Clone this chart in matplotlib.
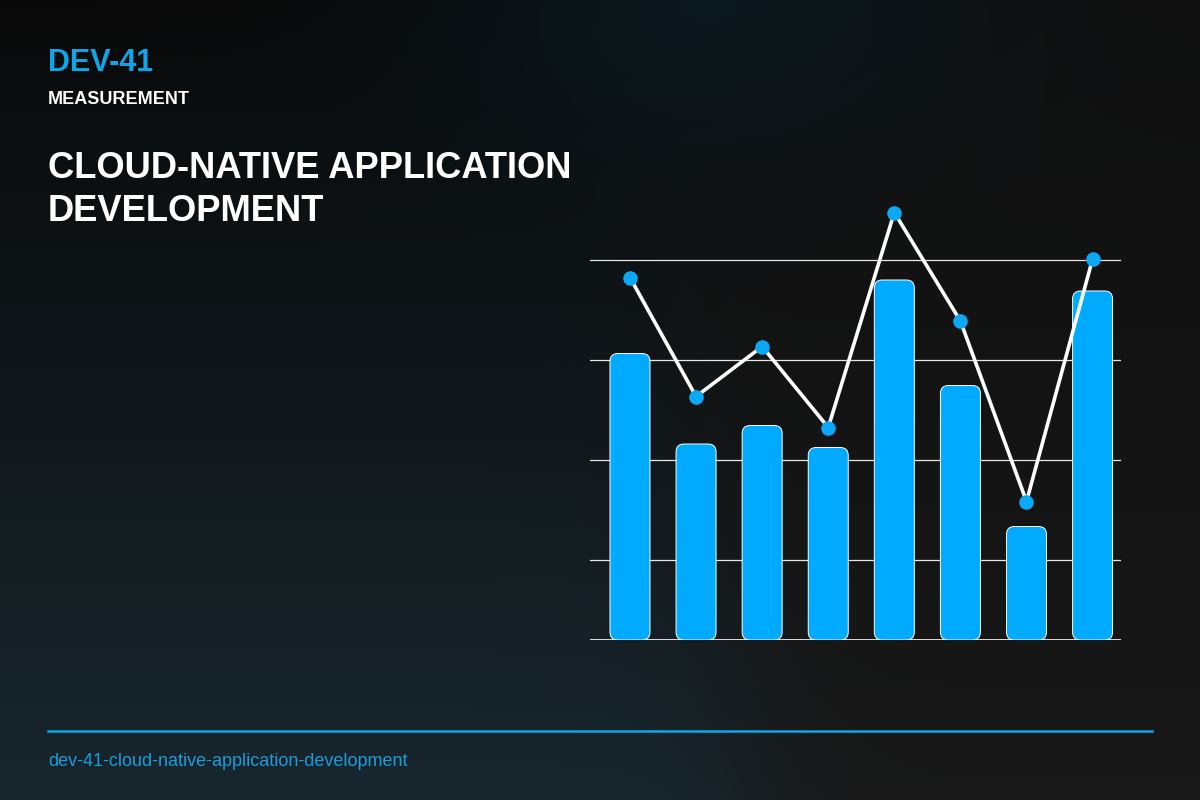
import matplotlib.pyplot as plt
import numpy as np
from matplotlib.patches import FancyBboxPatch

plt.rcParams['font.family'] = ['Liberation Sans', 'DejaVu Sans']

# data
categories = ["A", "B", "C", "D", "E", "F", "G", "H"]
bar_values = [61.3, 43.2, 46.9, 42.5, 76.0, 54.9, 26.7, 73.8]
line_values = [76.5, 52.7, 62.7, 46.5, 89.5, 67.8, 31.7, 80.2]
grid_values = [20, 40, 60, 80]
baseline = 4

code = "DEV-41"
kicker = "MEASUREMENT"
title = "CLOUD-NATIVE APPLICATION\nDEVELOPMENT"
slug = "dev-41-cloud-native-application-development"

blue = "#00aaff"
accent = "#0ea5e9"

fig = plt.figure(figsize=(12, 8), dpi=100)

# background gradient
bg = fig.add_axes([0, 0, 1, 1])
bg.set_axis_off()
h, w = 200, 300
yy, xx = np.mgrid[0:1:h * 1j, 0:1:w * 1j]
black = np.array([0.035, 0.035, 0.035])
teal = np.array([0.095, 0.15, 0.18])
gray_top = np.array([0.06, 0.06, 0.06])
gray_bot = np.array([0.095, 0.095, 0.095])
glow = np.array([0.04, 0.11, 0.14])

gray = gray_top * (1 - yy[..., None]) + gray_bot * yy[..., None]
edge = 0.5 + 0.13 * yy
left_mask = 1 / (1 + np.exp(-(edge - xx) / 0.03))
left = black * (1 - yy[..., None]) + teal * yy[..., None]
img = left * left_mask[..., None] + gray * (1 - left_mask[..., None])
# faint teal glow along the top edge
g = np.exp(-(((xx - 0.58) / 0.22) ** 2 + (yy / 0.2) ** 2))[..., None]
img = img * (1 - 0.7 * g) + glow * 0.7 * g
bg.imshow(img, extent=[0, 1, 0, 1], aspect="auto", origin="upper")
bg.set_xlim(0, 1)
bg.set_ylim(0, 1)

# chart
ax = fig.add_axes([590 / 1200, 0.2, 531 / 1200, 0.55])
ax.set_facecolor("none")
x = np.arange(len(categories))
ax.set_xlim(-0.605, 7.43)
ax.set_ylim(baseline, 92)

for gv in grid_values:
    ax.axhline(gv, color="white", lw=0.9, alpha=0.9, zorder=1)
ax.axhline(baseline, color="white", lw=1.2, zorder=1)

bars = ax.bar(x, [v - baseline for v in bar_values], bottom=baseline, width=0.605)
for r in bars:
    r.set_visible(False)
    box = FancyBboxPatch((r.get_x(), r.get_y()), r.get_width(), r.get_height(),
                         boxstyle="round,pad=0,rounding_size=0.12",
                         mutation_aspect=13.2, facecolor=blue,
                         edgecolor="white", lw=0.7, zorder=2)
    ax.add_patch(box)

ax.plot(x, line_values, color="white", lw=2.6, zorder=3)
ax.plot(x, line_values, "o", color="#0aa8f5", ms=10.5, mec="none", zorder=4,
        clip_on=False)

for s in ax.spines.values():
    s.set_visible(False)
ax.set_xticks([])
ax.set_yticks([])

# texts
fig.text(48 / 1200, 1 - 63 / 800, code, color=accent, fontsize=22,
         fontweight="bold", va="center")
fig.text(48 / 1200, 1 - 99.5 / 800, kicker, color="white", fontsize=13,
         fontweight="bold", va="center")
fig.text(48 / 1200, 1 - 221 / 800, title, color="white", fontsize=26.2,
         fontweight="bold", va="baseline", linespacing=1.3)

fig.add_artist(plt.Line2D([48 / 1200, 1152 / 1200], [1 - 731 / 800, 1 - 731 / 800],
                          color=accent, lw=1.8))
fig.text(48 / 1200, 1 - 762 / 800, slug, color="#1a9ddb", fontsize=13,
         va="center")

plt.savefig("out.png", dpi=100)
plt.close()
